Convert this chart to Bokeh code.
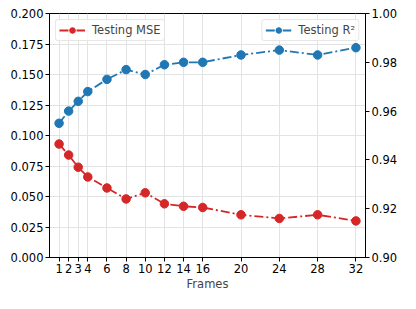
from bokeh.plotting import figure
from bokeh.models import (Range1d, LinearAxis, FixedTicker, NumeralTickFormatter,
                          Legend, LegendItem)
from bokeh.embed import file_html
from bokeh.resources import INLINE

frames = [1, 2, 3, 4, 6, 8, 10, 12, 14, 16, 20, 24, 28, 32]
mse = [0.093, 0.084, 0.074, 0.066, 0.057, 0.048, 0.053, 0.044, 0.042, 0.041,
       0.035, 0.032, 0.035, 0.030]
r2 = [0.955, 0.960, 0.964, 0.968, 0.973, 0.977, 0.975, 0.979, 0.980, 0.980,
      0.983, 0.985, 0.983, 0.986]
left_ticks = [0.0, 0.025, 0.05, 0.075, 0.1, 0.125, 0.15, 0.175, 0.2]
right_ticks = [0.90, 0.92, 0.94, 0.96, 0.98, 1.00]

RED = "#d62728"
BLUE = "#1f77b4"
FONT = "DejaVu Sans"
FS = "11.5px"

p = figure(width=400, height=293, output_backend="svg", toolbar_location=None,
           x_range=Range1d(0, 33), y_range=Range1d(0, 0.2),
           min_border_left=49, min_border_right=31, min_border_top=13,
           min_border_bottom=35)
p.extra_y_ranges = {"r2": Range1d(0.90, 1.00)}

p.outline_line_color = "black"
p.outline_line_width = 1
p.outline_line_alpha = 1

# axes
p.xaxis.ticker = FixedTicker(ticks=frames)
p.yaxis.ticker = FixedTicker(ticks=left_ticks)
p.yaxis.formatter = NumeralTickFormatter(format="0.000")
p.xaxis.axis_label = "Frames"

raxis = LinearAxis(y_range_name="r2", ticker=FixedTicker(ticks=right_ticks),
                   formatter=NumeralTickFormatter(format="0.00"))
p.add_layout(raxis, "right")

for ax in [p.xaxis[0], p.yaxis[0], raxis]:
    ax.axis_line_color = "black"
    ax.major_tick_line_color = "black"
    ax.major_tick_out = 4
    ax.major_tick_in = 0
    ax.minor_tick_line_color = None
    ax.major_label_text_font = FONT
    ax.major_label_text_font_size = FS
    ax.major_label_text_color = "black"
    ax.major_label_standoff = 2
p.xaxis.axis_label_text_font = FONT
p.xaxis.axis_label_text_font_size = FS
p.xaxis.axis_label_text_font_style = "normal"
p.xaxis.axis_label_standoff = 1

p.xgrid.ticker = FixedTicker(ticks=frames)
p.xgrid.grid_line_color = "#e3e3e3"
p.ygrid.grid_line_color = "#e3e3e3"
p.ygrid.grid_line_width = 1

# series
l1 = p.line(frames, mse, color=RED, line_width=1.8, line_dash="9 3 2 3")
s1 = p.scatter(frames, mse, color=RED, size=8.5)
l2 = p.line(frames, r2, color=BLUE, line_width=1.8, line_dash="9 3 2 3",
            y_range_name="r2")
s2 = p.scatter(frames, r2, color=BLUE, size=8.5, y_range_name="r2")

def style(leg):
    leg.label_text_font = FONT
    leg.label_text_font_size = FS
    leg.border_line_color = "#d0d0d0"
    leg.border_line_width = 1
    leg.background_fill_alpha = 0.8
    leg.padding = 3
    leg.margin = 6
    leg.spacing = 0
    leg.glyph_width = 26
    leg.glyph_height = 14
    leg.label_height = 14
    leg.label_standoff = 7
    leg.border_radius = 3

leg1 = Legend(items=[LegendItem(label="Testing MSE", renderers=[l1, s1])],
              location="top_left")
leg2 = Legend(items=[LegendItem(label="Testing R²", renderers=[l2, s2])],
              location="top_right")
style(leg1)
style(leg2)
p.add_layout(leg1)
p.add_layout(leg2)

open("out.html", "w").write(file_html(p, INLINE))
